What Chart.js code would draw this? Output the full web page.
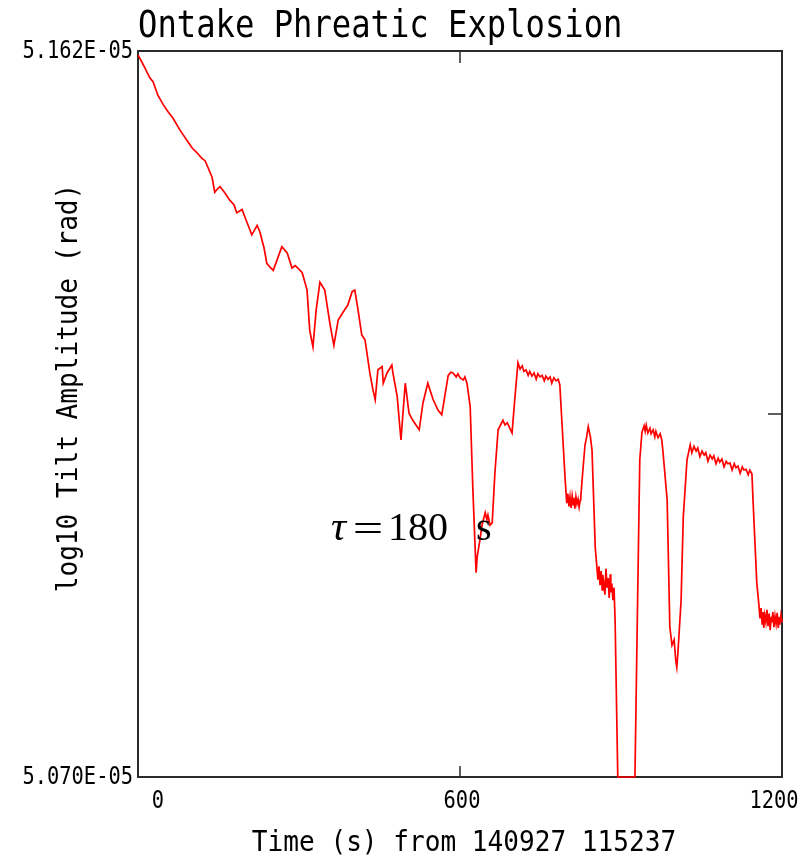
<!DOCTYPE html>
<html><head><meta charset="utf-8">
<script src="https://cdn.jsdelivr.net/npm/chart.js@4/dist/chart.umd.min.js"></script>
<style>html,body{margin:0;padding:0;background:#fff;}#wrap{width:811px;height:859px;}</style>
</head><body><div id="wrap"><canvas id="c" width="811" height="859"></canvas></div>
<script>
// ---- data (tilt values in units of 1e-5 rad) ----
const titleText = 'Ontake Phreatic Explosion';
const xAxisTitle = 'Time (s) from 140927 115237';
const yAxisTitle = 'log10 Tilt Amplitude (rad)';
const tauLabel = ['τ', '=', '180 s'];
const xTicks = [0, 600, 1200];
const yTicks = [5.070, 5.162];
const timeSec = [
  0,11,22,28,37,47,56,65,78,91,
  101,110,119,125,130,138,143,149,153,162,
  171,179,184,194,199,207,212,222,227,235,
  240,246,252,259,268,278,287,293,298,306,
  315,320,326,332,339,348,358,365,373,382,
  391,399,404,410,417,423,432,438,442,447,
  455,457,464,473,475,483,490,498,505,512,
  518,524,531,540,550,559,566,572,578,583,
  587,593,596,600,606,609,613,619,624,630,
  632,637,641,647,650,652,656,660,665,671,
  680,684,688,697,702,
  708,712,716,719,723,727,730,734,738,742,745,749,753,757,760,764,768,771,775,779,783,
  786,790,
  796,798,799,801,803,805,807,809,811,812,814,816,818,820,822,824,825,
  829,833,836,839,843,846,852,
  857,859,861,863,865,866,868,870,872,874,876,878,880,881,883,885,887,889,
  894,926,930,935,
  939,943,945,947,950,954,956,960,963,965,969,973,976,
  978,986,991,995,999,1002,1004,1006,1012,1016,1023,
  1029,1032,1036,1040,1043,1047,1051,1055,1058,1062,1066,1070,1073,1077,1081,1084,
  1088,1092,1096,1099,1103,1107,1111,1114,1118,1122,1126,1129,1133,1137,1140,1144,
  1146,
  1153,1157,1159,1161,1163,1165,1166,1168,1170,1172,1174,1176,1178,1180,1181,1183,
  1185,1187,1189,1191,1193,1195,1196,1198,1200
];
const tiltE5 = [
  5.1615,5.1601,5.1586,5.1581,5.1564,5.1552,5.1543,5.1535,5.1520,5.1507,
  5.1497,5.1491,5.1484,5.1481,5.1473,5.1460,5.1441,5.1446,5.1448,5.1440,
  5.1431,5.1425,5.1415,5.1419,5.1410,5.1396,5.1387,5.1399,5.1391,5.1370,
  5.1351,5.1346,5.1342,5.1355,5.1372,5.1364,5.1345,5.1348,5.1345,5.1339,
  5.1317,5.1266,5.1245,5.1292,5.1327,5.1317,5.1273,5.1247,5.1279,5.1289,
  5.1298,5.1315,5.1317,5.1292,5.1260,5.1254,5.1212,5.1190,5.1178,5.1216,
  5.1220,5.1199,5.1212,5.1222,5.1212,5.1182,5.1127,5.1199,5.1161,5.1152,
  5.1146,5.1140,5.1174,5.1199,5.1178,5.1165,5.1159,5.1184,5.1209,5.1213,
  5.1212,5.1207,5.1211,5.1206,5.1203,5.1207,5.1199,5.1169,5.1064,5.0959,
  5.0979,5.1000,5.1019,5.1035,5.1026,5.1032,5.1019,5.1022,5.1085,5.1140,
  5.1152,5.1146,5.1149,5.1136,5.1178,
  5.1225,5.1217,5.1221,5.1214,5.1216,5.1209,5.1214,5.1208,5.1212,5.1204,5.1211,
  5.1207,5.1209,5.1202,5.1208,5.1204,5.1207,5.1199,5.1206,5.1202,5.1204,
  5.1197,5.1149,
  5.1076,5.1056,5.1047,5.1059,5.1043,5.1055,5.1041,5.1056,5.1045,5.1054,
  5.1040,5.1055,5.1046,5.1052,5.1042,5.1051,5.1054,
  5.1089,5.1121,5.1131,5.1144,5.1131,5.1114,5.0991,
  5.0950,5.0967,5.0943,5.0961,5.0937,5.0956,5.0946,5.0931,5.0964,5.0940,
  5.0952,5.0927,5.0957,5.0934,5.0945,5.0924,5.0940,5.0899,
  5.0700,5.0700,5.0882,5.1102,
  5.1137,5.1145,5.1138,5.1146,5.1136,5.1142,5.1135,5.1140,5.1131,5.1138,5.1130,5.1135,5.1127,
  5.1114,5.1051,5.0890,5.0867,5.0874,5.0848,5.0839,5.0857,5.0924,5.1029,5.1102,
  5.1121,5.1111,5.1119,5.1113,5.1117,5.1106,5.1113,5.1108,5.1111,5.1100,
  5.1108,5.1103,5.1107,5.1097,5.1104,5.1099,5.1103,5.1093,5.1100,5.1097,
  5.1098,5.1089,5.1097,5.1092,5.1094,5.1085,5.1093,5.1089,5.1090,5.1083,
  5.1089,5.1084,
  5.1051,
  5.0946,5.0918,5.0901,5.0914,5.0893,5.0909,5.0889,5.0905,5.0896,5.0912,
  5.0891,5.0907,5.0886,5.0903,5.0896,5.0909,5.0890,5.0904,5.0894,5.0908,
  5.0889,5.0903,5.0893,5.0905,5.0896
];

// ---- style / layout ----
const MONO = '"DejaVu Sans Mono", "Liberation Mono", monospace';
const SERIF = '"Liberation Serif", "DejaVu Serif", serif';
const frameColor = '#2b2b2b';
const xLabelShift = [20, 2, -8];

function condText(ctx, s, x, y, size, sx, align, rot) {
  ctx.save();
  ctx.translate(x, y);
  if (rot) ctx.rotate(rot);
  ctx.scale(sx, 1);
  ctx.font = size + 'px ' + MONO;
  ctx.fillStyle = '#000';
  ctx.textAlign = align;
  ctx.textBaseline = 'alphabetic';
  ctx.fillText(s, 0, 0);
  ctx.restore();
}

const framePlugin = {
  id: 'frame',
  beforeDatasetsDraw(chart) {
    const {ctx, chartArea: a, scales} = chart;
    ctx.save();
    ctx.strokeStyle = frameColor;
    ctx.lineWidth = 2;
    ctx.strokeRect(a.left, a.top, a.right - a.left, a.bottom - a.top);
    const xm = Math.round(scales.x.getPixelForValue(600));
    const ym = Math.round(scales.y.getPixelForValue((yTicks[0] + yTicks[1]) / 2));
    ctx.lineWidth = 1.5;
    ctx.beginPath();
    ctx.moveTo(xm, a.top); ctx.lineTo(xm, a.top + 12);
    ctx.moveTo(xm, a.bottom); ctx.lineTo(xm, a.bottom - 11);
    ctx.moveTo(a.right, ym); ctx.lineTo(a.right - 14, ym);
    ctx.stroke();
    ctx.restore();
  },
  afterDraw(chart) {
    const {ctx, scales} = chart;
    condText(ctx, titleText, 138, 37, 37, 0.87, 'left');
    yTicks.forEach(v => {
      condText(ctx, v.toFixed(3) + 'E-05', 133, scales.y.getPixelForValue(v) + 7, 24, 0.85, 'right');
    });
    xTicks.forEach((v, i) => {
      condText(ctx, String(v), scales.x.getPixelForValue(v) + xLabelShift[i], 808, 24, 0.85, 'center');
    });
    condText(ctx, xAxisTitle, 464, 851, 29, 0.9, 'center');
    condText(ctx, yAxisTitle, 77, 388, 29, 0.9, 'center', -Math.PI / 2);
    ctx.save();
    ctx.fillStyle = '#000';
    ctx.textBaseline = 'alphabetic';
    ctx.textAlign = 'left';
    ctx.font = 'italic 42px ' + SERIF;
    ctx.fillText(tauLabel[0], 331, 540);
    ctx.save();
    ctx.translate(368, 542);
    ctx.scale(1.35, 1);
    ctx.textAlign = 'center';
    ctx.font = '40px ' + SERIF;
    ctx.fillText(tauLabel[1], 0, 0);
    ctx.restore();
    ctx.font = '40px ' + SERIF;
    try { ctx.wordSpacing = '18px'; } catch (e) {}
    ctx.fillText(tauLabel[2], 388, 540);
    ctx.restore();
  }
};

new Chart(document.getElementById('c'), {
  type: 'line',
  data: {
    datasets: [{
      data: timeSec.map((t, i) => ({x: t, y: tiltE5[i]})),
      borderColor: '#ff0000',
      borderWidth: 1.7,
      pointRadius: 0,
      tension: 0,
      clip: 3
    }]
  },
  options: {
    responsive: false,
    animation: false,
    devicePixelRatio: 1,
    layout: {padding: {left: 138, right: 29, top: 51, bottom: 82}},
    scales: {
      x: {type: 'linear', min: 0, max: 1200, display: false},
      y: {type: 'linear', min: yTicks[0], max: yTicks[1], display: false}
    },
    plugins: {legend: {display: false}, tooltip: {enabled: false}, title: {display: false}}
  },
  plugins: [framePlugin]
});
</script>
</body></html>
